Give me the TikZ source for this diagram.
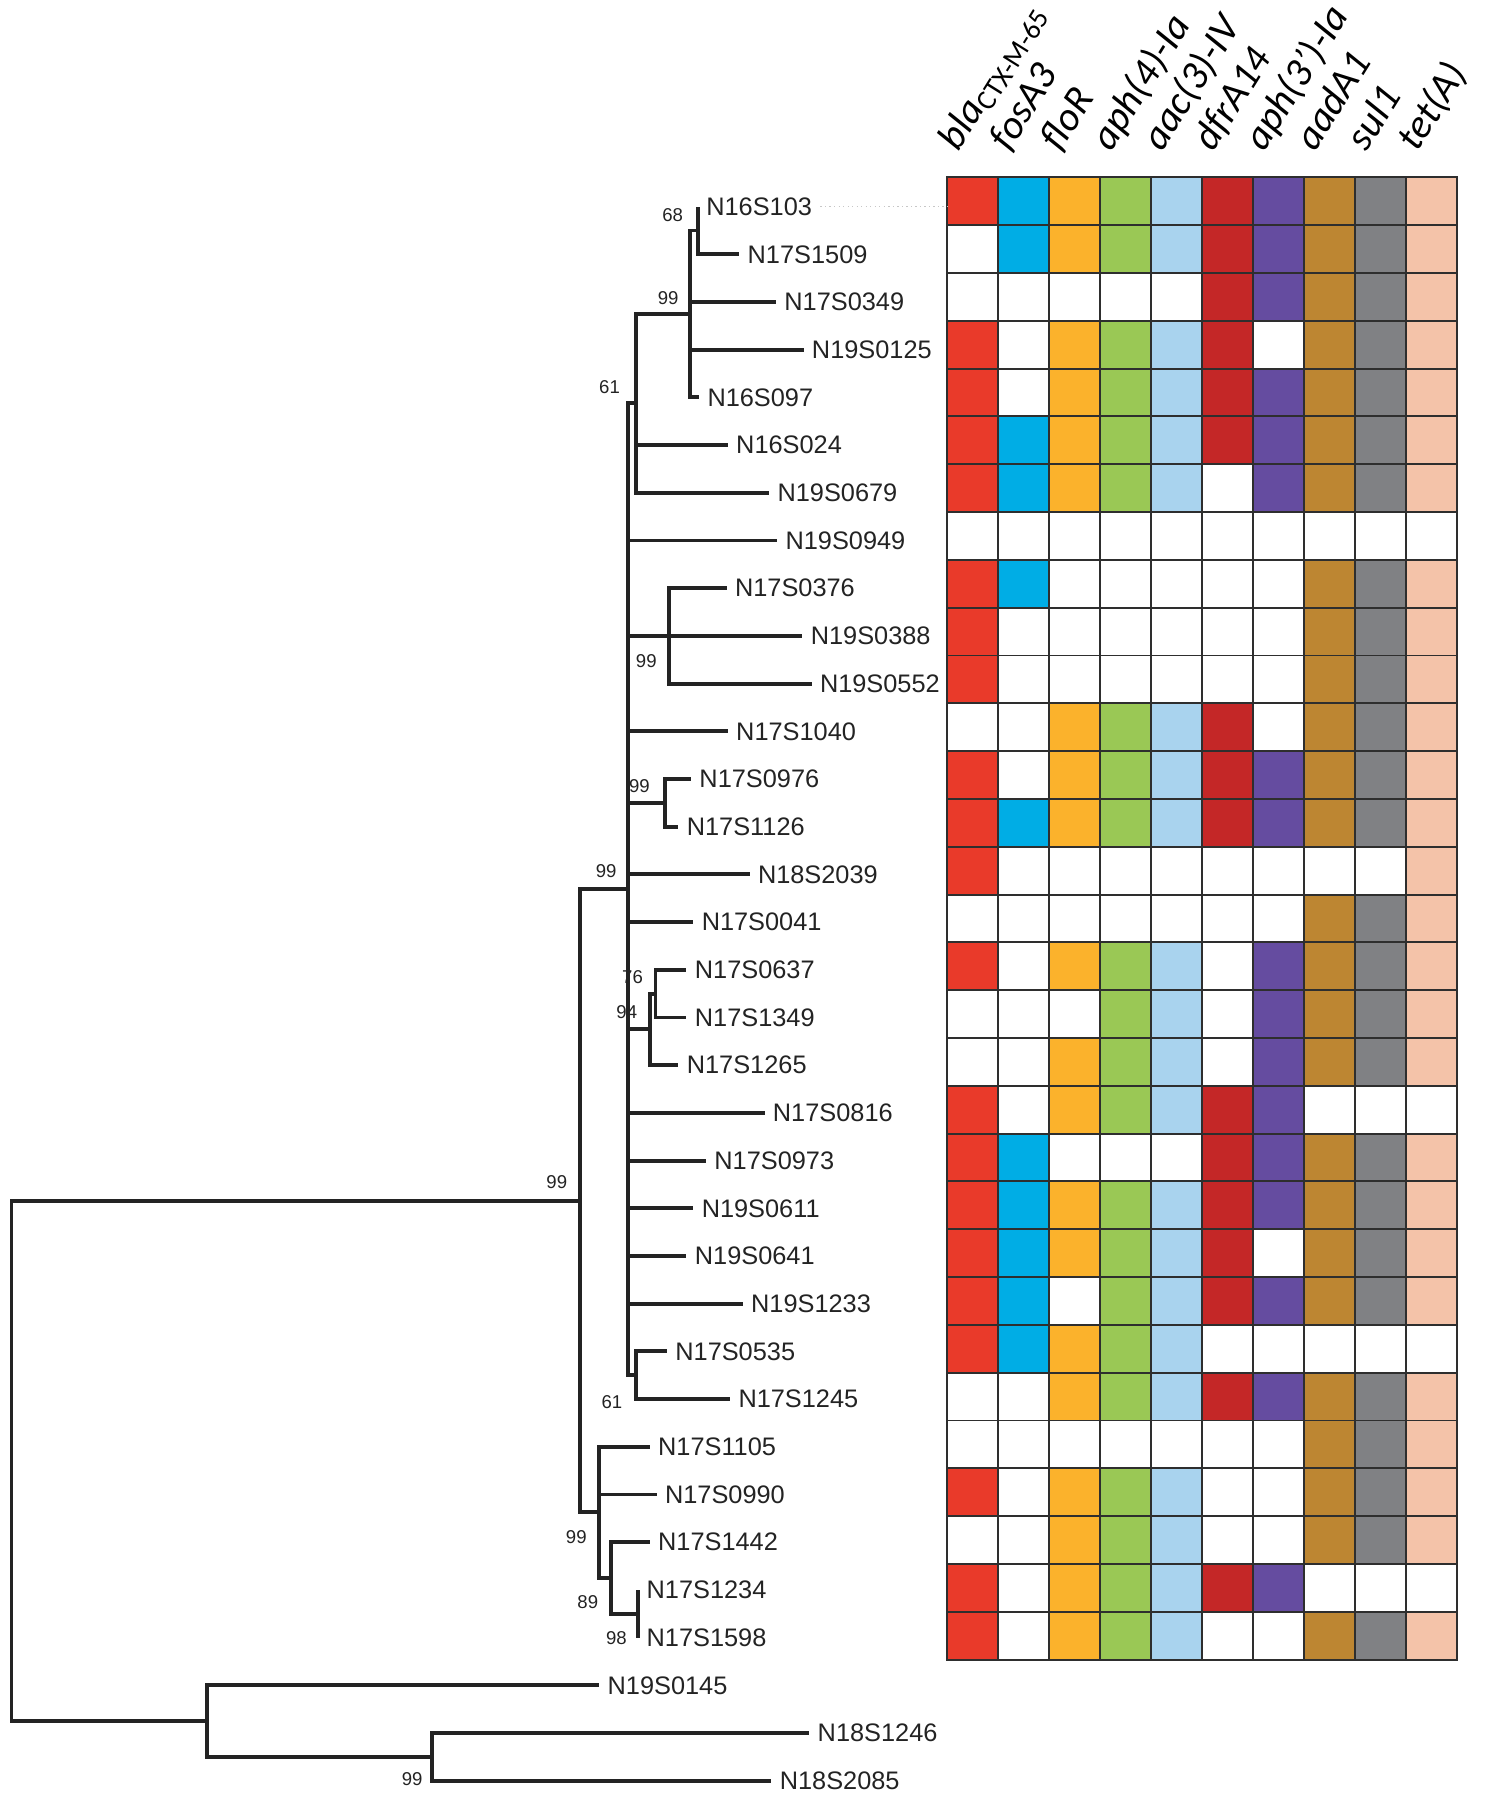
\documentclass[tikz,border=0pt]{standalone}
\usepackage{fontspec}
\setmainfont{Liberation Sans}
\newfontfamily\genefont{Carlito}
\definecolor{cline}{HTML}{232323}
\definecolor{cgrid}{HTML}{2E2E2E}
\definecolor{hm1}{HTML}{E93A2A}
\definecolor{hm2}{HTML}{00ADE5}
\definecolor{hm3}{HTML}{FBB22C}
\definecolor{hm4}{HTML}{9AC855}
\definecolor{hm5}{HTML}{A9D3EE}
\definecolor{hm6}{HTML}{C42727}
\definecolor{hm7}{HTML}{654CA0}
\definecolor{hm8}{HTML}{BD8632}
\definecolor{hm9}{HTML}{808184}
\definecolor{hm10}{HTML}{F4C3A9}
\tikzset{
  branch/.style={draw=cline, line width=2.4pt, line join=miter},
  leaf/.style={anchor=west, inner xsep=5pt, inner ysep=0pt, text=cline, font=\fontsize{15.7}{18}\selectfont},
  boot/.style={inner sep=0pt, text=cline, font=\fontsize{11.5}{13}\selectfont},
  gene/.style={rotate=58, anchor=base west, inner sep=0pt, font=\genefont\itshape\fontsize{25}{30}\selectfont},
  cell/.style={draw=cgrid, line width=1.2pt},
  dotline/.style={draw=black!22, line width=0.8pt, dotted},
}

\begin{document}
\begin{tikzpicture}[x=0.025cm, y=-0.025cm]
  \useasboundingbox (0,0) rectangle (1301,1568);

  % internal nodes of the tree
  \coordinate (root)  at (10,1272.6);
  \coordinate (nup)   at (505,1046.1);
  \coordinate (nbig)  at (547,774.7);
  \coordinate (n61a)  at (554,351.4);
  \coordinate (n99a)  at (601,273.5);
  \coordinate (n68)   at (608,200.8);
  \coordinate (n99b)  at (583,553.95);
  \coordinate (n99c)  at (579,699.4);
  \coordinate (n76)   at (571,865.6);
  \coordinate (n94)   at (566,896.7);
  \coordinate (n61b)  at (554,1198.0);
  \coordinate (nA)    at (522,1317.4);
  \coordinate (nB)    at (532,1374.6);
  \coordinate (nC)    at (556,1405.7);
  \coordinate (nout)  at (180,1499.2);
  \coordinate (nout2) at (376,1530.4);

  \foreach \a/\b in {root/nup, root/nout, nup/nbig, nup/nA, nbig/n61a, nbig/n99b, nbig/n99c,
    nbig/n94, nbig/n61b, n61a/n99a, n99a/n68, n94/n76, nA/nB, nB/nC, nout/nout2}
    \draw[branch] (\a) |- (\b);

  % leaves
  \foreach \nm/\pa/\xe [count=\i] in {N16S103/n68/608, N17S1509/n68/644, N17S0349/n99a/676,
    N19S0125/n99a/700, N16S097/n99a/609, N16S024/n61a/634, N19S0679/n61a/670, N19S0949/nbig/677,
    N17S0376/n99b/633, N19S0388/n99b/699, N19S0552/n99b/707, N17S1040/nbig/634,
    N17S0976/n99c/602, N17S1126/n99c/591, N18S2039/nbig/653, N17S0041/nbig/604,
    N17S0637/n76/598, N17S1349/n76/598, N17S1265/n94/591, N17S0816/nbig/666,
    N17S0973/nbig/615, N19S0611/nbig/604, N19S0641/nbig/598, N19S1233/nbig/647,
    N17S0535/n61b/581, N17S1245/n61b/636, N17S1105/nA/566, N17S0990/nA/572,
    N17S1442/nB/566, N17S1234/nC/556, N17S1598/nC/556, N19S0145/nout/522,
    N18S1246/nout2/705, N18S2085/nout2/672} {
    \node[leaf] (\nm) at (\xe,{180+41.55*(\i-1)}) {\nm};
    \draw[branch] (\pa) |- (\nm.west);
  }

  % bootstrap values
  \foreach \nm/\x/\y/\t in {b68/586/187/68, b99a/582/260/99, b61a/531/337/61, b99b/563/576/99,
    b99c/557/685/99, b99d/528/759/99, b76/551/851/76, b94/546/882/94, b99e/485/1030/99,
    b61b/533/1221/61, b99f/502/1339/99, b89/512/1396/89, b98/537/1427/98, b99g/359/1550/99}
    \node[boot] (\nm) at (\x,\y) {\t};

  % gene presence
  \foreach \cells [count=\r] in {
    {1,1,1,1,1,1,1,1,1,1}, {0,1,1,1,1,1,1,1,1,1}, {0,0,0,0,0,1,1,1,1,1}, {1,0,1,1,1,1,0,1,1,1},
    {1,0,1,1,1,1,1,1,1,1}, {1,1,1,1,1,1,1,1,1,1}, {1,1,1,1,1,0,1,1,1,1}, {0,0,0,0,0,0,0,0,0,0},
    {1,1,0,0,0,0,0,1,1,1}, {1,0,0,0,0,0,0,1,1,1}, {1,0,0,0,0,0,0,1,1,1}, {0,0,1,1,1,1,0,1,1,1},
    {1,0,1,1,1,1,1,1,1,1}, {1,1,1,1,1,1,1,1,1,1}, {1,0,0,0,0,0,0,0,0,1}, {0,0,0,0,0,0,0,1,1,1},
    {1,0,1,1,1,0,1,1,1,1}, {0,0,0,1,1,0,1,1,1,1}, {0,0,1,1,1,0,1,1,1,1}, {1,0,1,1,1,1,1,0,0,0},
    {1,1,0,0,0,1,1,1,1,1}, {1,1,1,1,1,1,1,1,1,1}, {1,1,1,1,1,1,0,1,1,1}, {1,1,0,1,1,1,1,1,1,1},
    {1,1,1,1,1,0,0,0,0,0}, {0,0,1,1,1,1,1,1,1,1}, {0,0,0,0,0,0,0,1,1,1}, {1,0,1,1,1,0,0,1,1,1},
    {0,0,1,1,1,0,0,1,1,1}, {1,0,1,1,1,1,1,0,0,0}, {1,0,1,1,1,0,0,1,1,1}} {
    \foreach \v [count=\c] in \cells {
      \ifnum\v=1 \def\fc{hm\c}\else\def\fc{white}\fi
      \draw[cell, fill=\fc] ({825+44.45*(\c-1)},{154.5+41.65*(\r-1)}) rectangle ++(44.45,41.65);
    }
  }
  \coordinate (g1) at (825,180);
  \draw[dotline] (N16S103.east) -- (g1);

  % column headers
  \foreach \g [count=\c] in {bla\textsubscript{\upshape CTX-M-65}, fosA3, floR, aph(4)-Ia, aac(3)-IV,
    dfrA14, aph(3’)-Ia, aadA1, sul1, tet(A)}
    \node[gene] (h\c) at ({835+44.45*(\c-1)},133) {\g};
\end{tikzpicture}
\end{document}
